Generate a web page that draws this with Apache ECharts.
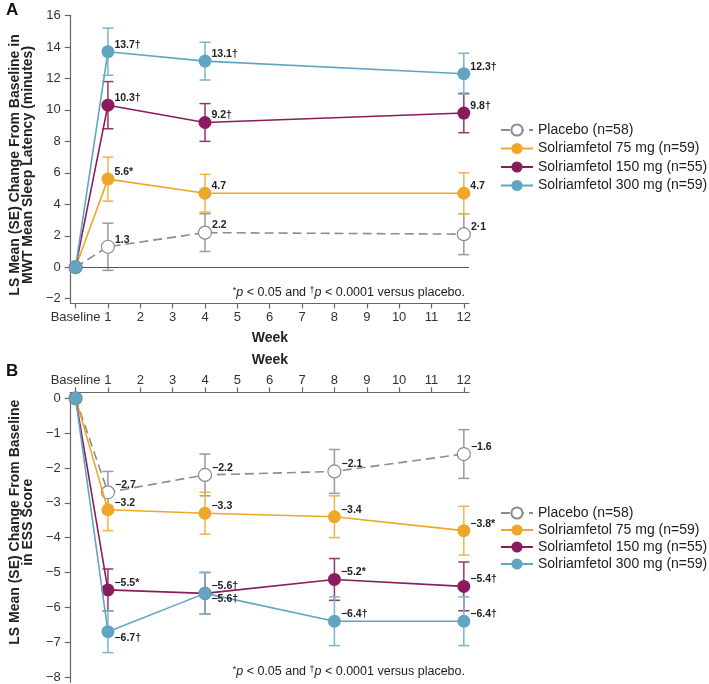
<!DOCTYPE html>
<html><head><meta charset="utf-8">
<script src="https://cdn.jsdelivr.net/npm/echarts@6/dist/echarts.min.js"></script>
<style>html,body{margin:0;padding:0;background:#fff}#c{width:709px;height:684px}</style>
</head><body><div id="c"></div>
<script>
// ---------- DATA ----------
const groupNames = ['Placebo (n=58)', 'Solriamfetol 75 mg (n=59)', 'Solriamfetol 150 mg (n=55)', 'Solriamfetol 300 mg (n=59)'];
const xTickValues = [0,1,2,3,4,5,6,7,8,9,10,11,12];

// Panel A: MWT
const weeksA = [0, 1, 4, 12];
const mwtPlacebo = [0, 1.3, 2.2, 2.1];
const mwtPlaceboSE = [null, 1.5, 1.2, 1.3];
const mwtPlaceboLabels = ['', '1.3', '2.2', '2·1'];
const mwt75 = [0, 5.6, 4.7, 4.7];
const mwt75SE = [null, 1.4, 1.2, 1.3];
const mwt75Labels = ['', '5.6*', '4.7', '4.7'];
const mwt150 = [0, 10.3, 9.2, 9.8];
const mwt150SE = [null, 1.5, 1.2, 1.25];
const mwt150Labels = ['', '10.3†', '9.2†', '9.8†'];
const mwt300 = [0, 13.7, 13.1, 12.3];
const mwt300SE = [null, 1.5, 1.2, 1.3];
const mwt300Labels = ['', '13.7†', '13.1†', '12.3†'];
const yTicksA = [-2, 0, 2, 4, 6, 8, 10, 12, 14, 16];

// Panel B: ESS
const weeksB = [0, 1, 4, 8, 12];
const essPlacebo = [0, -2.7, -2.2, -2.1, -1.6];
const essPlaceboSE = [null, 0.6, 0.6, 0.63, 0.7];
const essPlaceboLabels = ['', '−2.7', '−2.2', '−2.1', '−1.6'];
const ess75 = [0, -3.2, -3.3, -3.4, -3.8];
const ess75SE = [null, 0.6, 0.6, 0.6, 0.7];
const ess75Labels = ['', '−3.2', '−3.3', '−3.4', '−3.8*'];
const ess150 = [0, -5.5, -5.6, -5.2, -5.4];
const ess150SE = [null, 0.6, 0.6, 0.6, 0.7];
const ess150Labels = ['', '−5.5*', '−5.6†', '−5.2*', '−5.4†'];
const ess300 = [0, -6.7, -5.6, -6.4, -6.4];
const ess300SE = [null, 0.6, 0.6, 0.7, 0.7];
const ess300Labels = ['', '−6.7†', '−5.6†', '−6.4†', '−6.4†'];
const ess300LabelBelow = [false, true, true, false, false];
const yTicksB = [-8, -7, -6, -5, -4, -3, -2, -1, 0];

// ---------- STYLE ----------
const colors = ['#8c8c8c', '#EEA72A', '#8A1C5D', '#62A5C1'];
const errColors = ['#9a9a9a', '#F0B445', '#97346E', '#7DB4CB'];
const FONT = 'Liberation Sans, Arial, sans-serif';

function lineSeries(name, idx, xs, ys, labels, gridIdx, below) {
  const isPlacebo = idx === 0;
  return {
    type: 'line', name: name, xAxisIndex: gridIdx, yAxisIndex: gridIdx,
    z: 3 + idx,
    data: xs.map((x, i) => ({
      value: [x, ys[i]],
      label: {
        show: labels[i] !== '',
        formatter: labels[i],
        position: 'right',
        offset: (below && below[i]) ? [-5, 6] : [-5, -7]
      }
    })),
    symbol: 'circle', symbolSize: 13,
    itemStyle: isPlacebo ? { color: '#ffffff', borderColor: colors[0], borderWidth: 1.2 } : { color: colors[idx], borderColor: colors[idx], borderWidth: 0 },
    lineStyle: { color: colors[idx], width: 1.6, type: isPlacebo ? [9, 5] : 'solid' },
    label: { color: '#222', fontSize: 10.5, fontWeight: 'bold', fontFamily: FONT },
    emphasis: { disabled: true },
    animation: false
  };
}

function errSeries(idx, xs, ys, se, gridIdx) {
  const data = [];
  xs.forEach((x, i) => { if (se[i] != null) data.push([x, ys[i] - se[i], ys[i] + se[i]]); });
  return {
    type: 'custom', name: 'err' + gridIdx + '_' + idx, xAxisIndex: gridIdx, yAxisIndex: gridIdx,
    z: 2,
    data: data,
    encode: { x: 0, y: [1, 2] },
    renderItem: function (params, api) {
      const lo = api.coord([api.value(0), api.value(1)]);
      const hi = api.coord([api.value(0), api.value(2)]);
      const w = 5.5;
      const st = { stroke: errColors[idx], lineWidth: 1.5, fill: null };
      return {
        type: 'group', children: [
          { type: 'line', shape: { x1: lo[0], y1: lo[1], x2: hi[0], y2: hi[1] }, style: st },
          { type: 'line', shape: { x1: lo[0] - w, y1: lo[1], x2: lo[0] + w, y2: lo[1] }, style: st },
          { type: 'line', shape: { x1: hi[0] - w, y1: hi[1], x2: hi[0] + w, y2: hi[1] }, style: st }
        ]
      };
    },
    silent: true, animation: false
  };
}

const axisLineStyle = { color: '#666', width: 1.2 };
const tickLabelStyle = { color: '#333', fontSize: 13, fontFamily: FONT };

function xAxisCfg(gridIdx, pos, nameGap, margin) {
  return {
    type: 'value', gridIndex: gridIdx, position: pos, min: -0.15, max: 12.16,
    name: 'Week', nameLocation: 'middle', nameGap: nameGap,
    nameTextStyle: { fontSize: 14, fontWeight: 'bold', color: '#222', fontFamily: FONT },
    axisLine: { show: true, onZero: false, lineStyle: axisLineStyle },
    axisTick: { show: true, length: 5, lineStyle: axisLineStyle, customValues: xTickValues },
    axisLabel: Object.assign({ margin: margin, customValues: xTickValues, formatter: v => v === 0 ? 'Baseline' : String(v) }, tickLabelStyle),
    splitLine: { show: false }
  };
}

function fmtNeg(v) { return v < 0 ? '−' + Math.abs(v) : String(v); }

const seriesList = [];
const mwtSets = [[mwtPlacebo, mwtPlaceboSE, mwtPlaceboLabels], [mwt75, mwt75SE, mwt75Labels], [mwt150, mwt150SE, mwt150Labels], [mwt300, mwt300SE, mwt300Labels]];
const essSets = [[essPlacebo, essPlaceboSE, essPlaceboLabels, null], [ess75, ess75SE, ess75Labels, null], [ess150, ess150SE, ess150Labels, null], [ess300, ess300SE, ess300Labels, ess300LabelBelow]];
mwtSets.forEach((s, i) => seriesList.push(errSeries(i, weeksA, s[0], s[1], 0)));
essSets.forEach((s, i) => seriesList.push(errSeries(i, weeksB, s[0], s[1], 1)));
mwtSets.forEach((s, i) => seriesList.push(lineSeries(groupNames[i], i, weeksA, s[0], s[2], 0, null)));
essSets.forEach((s, i) => seriesList.push(lineSeries(groupNames[i], i, weeksB, s[0], s[2], 1, s[3])));
// zero reference line in panel A
seriesList[8].markLine = {
  silent: true, symbol: 'none', animation: false,
  lineStyle: { color: '#555', width: 1.2, type: 'solid' },
  label: { show: false },
  data: [{ yAxis: 0 }]
};

const footRich = {
  n: { fontSize: 12.5, color: '#222', fontWeight: 'normal', fontFamily: FONT },
  i: { fontSize: 12.5, color: '#222', fontWeight: 'normal', fontStyle: 'italic', fontFamily: FONT },
  s: { fontSize: 9, color: '#222', fontWeight: 'normal', fontFamily: FONT, verticalAlign: 'top' }
};
const footText = '{s|*}{i|p}{n| < 0.05 and }{s|†}{i|p}{n| < 0.0001 versus placebo.}';

const legendCommon = {
  orient: 'vertical', left: 500, padding: 0, itemWidth: 32, itemHeight: 14,
  data: groupNames, selectedMode: false,
  textStyle: { fontSize: 14, color: '#222', fontFamily: FONT }
};

const option = {
  animation: false,
  textStyle: { fontFamily: FONT },
  title: [
    { text: 'A', left: 6, top: 2, padding: 0, textStyle: { fontSize: 17, fontWeight: 'bold', color: '#111', fontFamily: FONT } },
    { text: 'B', left: 6, top: 363, padding: 0, textStyle: { fontSize: 17, fontWeight: 'bold', color: '#111', fontFamily: FONT } },
    { text: footText, right: 244, top: 286, padding: 0, textStyle: { fontWeight: 'normal', rich: footRich } },
    { text: footText, right: 244, top: 665, padding: 0, textStyle: { fontWeight: 'normal', rich: footRich } }
  ],
  legend: [
    Object.assign({ top: 123, itemGap: 4.5 }, legendCommon),
    Object.assign({ top: 506, itemGap: 3 }, legendCommon)
  ],
  grid: [
    { left: 61, right: 240, top: 15.5, bottom: 380.6 },
    { left: 61, right: 240, top: 392.3, bottom: 1.8 }
  ],
  xAxis: [xAxisCfg(0, 'bottom', 28, 8), xAxisCfg(1, 'top', 25, 5)],
  yAxis: [
    {
      type: 'value', gridIndex: 0, min: -2.3, max: 16,
      name: 'LS Mean (SE) Change From Baseline in\nMWT Mean Sleep Latency (minutes)',
      nameLocation: 'middle', nameRotate: 90, nameGap: 27,
      nameTextStyle: { fontSize: 14, fontWeight: 'bold', color: '#222', lineHeight: 13, fontFamily: FONT, padding: [0, 11, 0, 0] },
      axisLine: { show: true, onZero: false, lineStyle: axisLineStyle },
      axisTick: { show: true, length: 6, lineStyle: axisLineStyle, customValues: yTicksA },
      axisLabel: Object.assign({ margin: 10, customValues: yTicksA, formatter: fmtNeg }, tickLabelStyle),
      splitLine: { show: false }
    },
    {
      type: 'value', gridIndex: 1, min: -8.15, max: 0.172,
      name: 'LS Mean (SE) Change From Baseline\nin ESS Score',
      nameLocation: 'middle', nameRotate: 90, nameGap: 27,
      nameTextStyle: { fontSize: 14, fontWeight: 'bold', color: '#222', lineHeight: 13, fontFamily: FONT, padding: [0, 0, 0, 30] },
      axisLine: { show: true, onZero: false, lineStyle: axisLineStyle },
      axisTick: { show: true, length: 6, lineStyle: axisLineStyle, customValues: yTicksB },
      axisLabel: Object.assign({ margin: 10, customValues: yTicksB, formatter: fmtNeg }, tickLabelStyle),
      splitLine: { show: false }
    }
  ],
  series: seriesList
};

const chart = echarts.init(document.getElementById('c'), null, { renderer: 'canvas' });
chart.setOption(option);
</script>
</body></html>
